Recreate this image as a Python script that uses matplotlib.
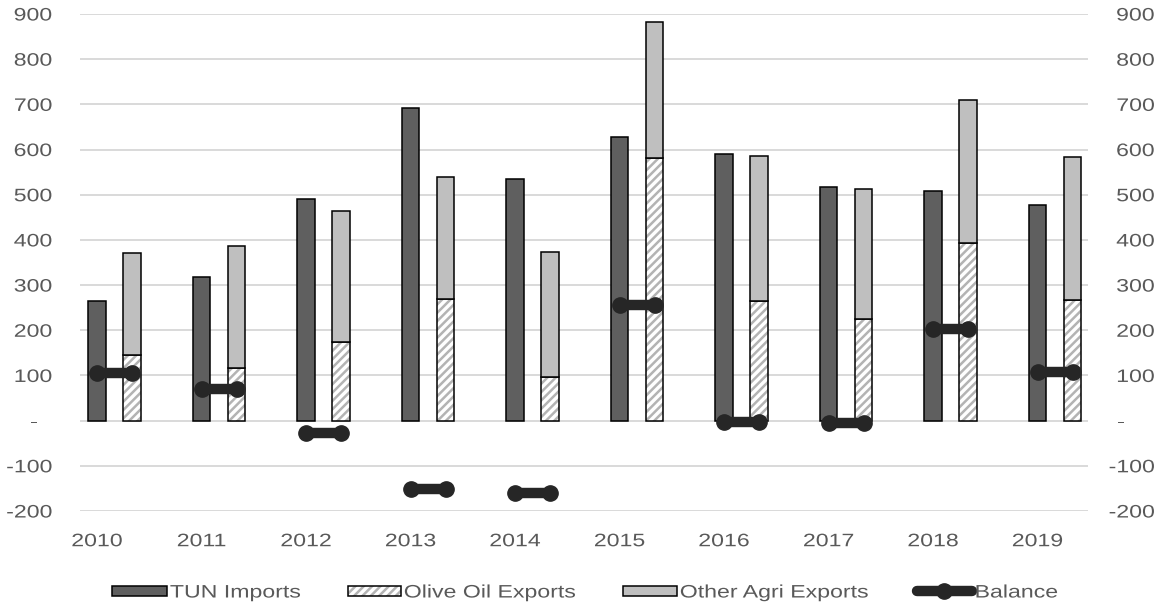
import matplotlib
matplotlib.use("Agg")
import matplotlib.pyplot as plt
import numpy as np
from matplotlib.ticker import FuncFormatter
from matplotlib.patches import Rectangle
from matplotlib.lines import Line2D
from matplotlib.patheffects import AbstractPathEffect
from matplotlib.transforms import Affine2D

plt.rcParams['font.family'] = ['Liberation Sans', 'DejaVu Sans']
plt.rcParams['hatch.linewidth'] = 1.8

years = ['2010', '2011', '2012', '2013', '2014', '2015', '2016', '2017', '2018', '2019']
tun_imports = [264, 318, 490, 691, 534, 627, 590, 518, 508, 477]
olive_oil_exports = [145, 117, 175, 270, 97, 582, 265, 224, 393, 267]
other_agri_exports = [225, 270, 288, 270, 276, 300, 321, 288, 317, 317]
balance = [106, 69, -27, -151, -161, 255, -4, -6, 202, 107]

TEXT = '#595959'
IMP_C = '#5f5f5f'
OTHER_C = '#bfbfbf'
HATCH_C = '#b4b4b4'
BAL_C = '#262626'
HATCH = '////'
FS = 13
SX = 1.28


class Stretch(AbstractPathEffect):
    """Widen glyphs horizontally about the text's anchor edge."""

    def __init__(self, sx, anchor='center'):
        super().__init__()
        self.sx = sx
        self.anchor = anchor

    def draw_path(self, renderer, gc, tpath, affine, rgbFace=None):
        ext = tpath.get_extents(affine)
        if self.anchor == 'left':
            x0 = ext.x0
        elif self.anchor == 'right':
            x0 = ext.x1
        else:
            x0 = 0.5 * (ext.x0 + ext.x1)
        t = affine + Affine2D().translate(-x0, 0).scale(self.sx, 1).translate(x0, 0)
        renderer.draw_path(gc, tpath, t, rgbFace)


fig = plt.figure(figsize=(11.6, 6.08), dpi=100)
W, H = 1160, 608
ax = fig.add_axes([80 / W, 1 - 511 / H, (1088 - 80) / W, (511 - 14) / H])

x = np.arange(len(years))
off = 0.335
bw = 0.17

ax.bar(x, tun_imports, width=bw, color=IMP_C, edgecolor='black', linewidth=1.1, zorder=3)
# hatched fill in grey, then a black outline on top
ax.bar(x + off, olive_oil_exports, width=bw, facecolor='white', edgecolor=HATCH_C,
       hatch=HATCH, linewidth=0, zorder=3)
ax.bar(x + off, olive_oil_exports, width=bw, fill=False, edgecolor='black',
       linewidth=1.1, zorder=3)
ax.bar(x + off, other_agri_exports, bottom=olive_oil_exports, width=bw, color=OTHER_C,
       edgecolor='black', linewidth=1.1, zorder=3)

for xi, b in zip(x, balance):
    ax.plot([xi, xi + off], [b, b], color=BAL_C, lw=7.5, solid_capstyle='butt',
            marker='o', markersize=11, zorder=5)

ax.set_xlim(-0.163, 9.483)
ax.set_ylim(-200, 900)
yt = np.arange(-200, 901, 100)
ax.set_yticks(yt)
ax.yaxis.set_major_formatter(FuncFormatter(lambda v, p: '-   ' if v == 0 else f'{int(v)}'))
ax.grid(axis='y', color='#d9d9d9', lw=1.4, zorder=0)
ax.set_axisbelow(True)
for s in ax.spines.values():
    s.set_visible(False)
ax.set_xticks(x)
ax.set_xticklabels(years)
ax.tick_params(axis='x', length=0, pad=16, labelsize=FS, labelcolor=TEXT)
ax.tick_params(axis='y', length=0, pad=20, labelsize=FS, labelcolor=TEXT)

ax2 = ax.twinx()
ax2.set_ylim(-200, 900)
ax2.set_yticks(yt)
ax2.yaxis.set_major_formatter(FuncFormatter(lambda v, p: '-      ' if v == 0 else f'{int(v)}'))
for s in ax2.spines.values():
    s.set_visible(False)
ax2.tick_params(axis='y', length=0, pad=48, labelsize=FS, labelcolor=TEXT)

fig.canvas.draw()
for lab in ax.get_xticklabels():
    lab.set_path_effects([Stretch(SX, 'center')])
for lab in ax.get_yticklabels():
    lab.set_path_effects([Stretch(SX, 'right')])
for lab in ax2.get_yticklabels():
    lab.set_horizontalalignment('right')
    lab.set_path_effects([Stretch(SX, 'right')])

# legend row along the bottom, in pixel positions
def px(xp, yp):
    return xp / W, 1 - yp / H

ly = 591
ph = 10
legend_items = [
    ('TUN Imports', 112, 167, dict(facecolor=IMP_C)),
    ('Olive Oil Exports', 348, 401, dict(facecolor='white', hatch=HATCH)),
    ('Other Agri Exports', 623, 677, dict(facecolor=OTHER_C)),
]
for label, x0, x1, style in legend_items:
    if 'hatch' in style:
        fig.add_artist(Rectangle(px(x0, ly + ph / 2), (x1 - x0) / W, ph / H,
                                 transform=fig.transFigure, facecolor='white',
                                 edgecolor=HATCH_C, hatch=HATCH, linewidth=0))
        fig.add_artist(Rectangle(px(x0, ly + ph / 2), (x1 - x0) / W, ph / H,
                                 transform=fig.transFigure, fill=False,
                                 edgecolor='black', linewidth=1.1))
    else:
        fig.add_artist(Rectangle(px(x0, ly + ph / 2), (x1 - x0) / W, ph / H,
                                 transform=fig.transFigure, edgecolor='black',
                                 linewidth=1.1, **style))
    t = fig.text(*px(x1 + 3, ly), label, ha='left', va='center_baseline',
                 fontsize=FS, color=TEXT)
    t.set_path_effects([Stretch(SX, 'left')])

fig.add_artist(Line2D([917 / W, 972 / W], [1 - ly / H] * 2, transform=fig.transFigure,
                      color=BAL_C, lw=7.5, solid_capstyle='round'))
fig.add_artist(Line2D([944.5 / W], [1 - ly / H], transform=fig.transFigure,
                      color=BAL_C, marker='o', markersize=11))
t = fig.text(*px(975, ly), 'Balance', ha='left', va='center_baseline',
             fontsize=FS, color=TEXT)
t.set_path_effects([Stretch(SX, 'left')])

fig.savefig('out.png', dpi=100)
